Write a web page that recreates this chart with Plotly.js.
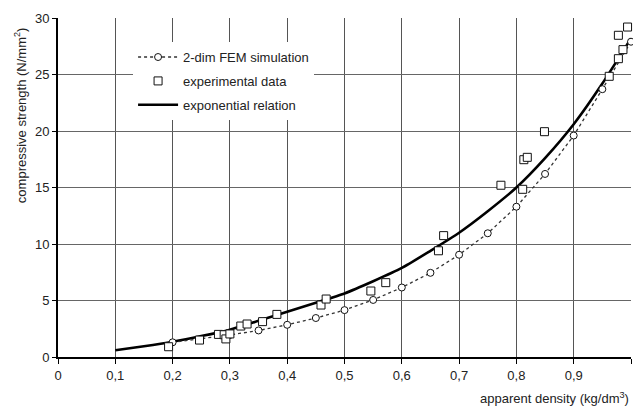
<!DOCTYPE html>
<html>
<head>
<meta charset="utf-8">
<script src="https://cdn.plot.ly/plotly-3.0.1.min.js"></script>
<style>html,body{margin:0;padding:0;background:#fff;}#chart{width:633px;height:407px;}</style>
</head>
<body>
<div id="chart"></div>
<script>
// FEM simulation (circles, dotted line)
var femX = [0.2, 0.3, 0.35, 0.4, 0.45, 0.5, 0.55, 0.6, 0.65, 0.7, 0.75, 0.8, 0.85, 0.9, 0.95, 1.0];
var femY = [1.3, 1.95, 2.35, 2.85, 3.45, 4.15, 5.05, 6.15, 7.45, 9.05, 10.95, 13.3, 16.2, 19.6, 23.7, 27.9];
// experimental data (squares)
var expX = [0.193, 0.247, 0.28, 0.29, 0.293, 0.30, 0.319, 0.33, 0.357, 0.382, 0.459, 0.468, 0.546, 0.572, 0.664, 0.673, 0.773, 0.811, 0.813, 0.819, 0.849, 0.962, 0.978, 0.986, 0.978, 0.994];
var expY = [0.91, 1.5, 2.0, 1.97, 1.6, 2.04, 2.74, 2.92, 3.13, 3.77, 4.6, 5.13, 5.84, 6.58, 9.4, 10.74, 15.2, 14.84, 17.46, 17.67, 19.94, 24.84, 26.4, 27.2, 28.47, 29.2];
// exponential relation (solid line)
var expoX = [0.1, 0.15, 0.2, 0.25, 0.3, 0.35, 0.4, 0.45, 0.5, 0.55, 0.6, 0.65, 0.7, 0.75, 0.8, 0.85, 0.9, 0.95, 1.0];
var expoY = [0.6, 0.95, 1.35, 1.85, 2.42, 3.2, 4.0, 4.8, 5.62, 6.7, 7.88, 9.4, 11.0, 12.9, 15.0, 17.6, 20.6, 24.2, 28.2];

var xTickVals = [0, 0.1, 0.2, 0.3, 0.4, 0.5, 0.6, 0.7, 0.8, 0.9, 1];
var xTickText = ['0', '0,1', '0,2', '0,3', '0,4', '0,5', '0,6', '0,7', '0,8', '0,9', '1'];
var yTickVals = [0, 5, 10, 15, 20, 25, 30];

var fnt = 'Liberation Sans, Arial, sans-serif';

var traces = [
  {x: expoX, y: expoY, mode: 'lines', name: 'exponential relation', legendgroup: 'c', legendrank: 3,
   line: {color: '#000', width: 2.6, shape: 'spline', smoothing: 0.6}},
  {x: femX, y: femY, mode: 'lines+markers', name: '2-dim FEM simulation', legendgroup: 'a', legendrank: 1,
   line: {color: '#333', width: 1.3, dash: '3px,3px'},
   marker: {symbol: 'circle', size: 7, color: '#fff', line: {width: 1, color: '#111'}}, cliponaxis: false},
  {x: expX, y: expY, mode: 'markers', name: 'experimental data', legendgroup: 'b', legendrank: 2,
   marker: {symbol: 'square', size: 8, color: '#fff', line: {width: 1, color: '#111'}}, cliponaxis: false}
];

var layout = {
  width: 633, height: 407,
  margin: {l: 58, r: 2, t: 18, b: 50},
  paper_bgcolor: '#fff', plot_bgcolor: '#fff',
  font: {family: fnt, size: 13, color: '#222'},
  showlegend: true,
  legend: {x: 0.131, y: 0.929, xanchor: 'left', yanchor: 'top', bgcolor: '#fff', borderwidth: 0,
           font: {family: fnt, size: 13, color: '#222'}, tracegroupgap: 4, itemwidth: 40, traceorder: 'grouped'},
  xaxis: {range: [0, 1], tickvals: xTickVals, ticktext: xTickText, showgrid: true, gridcolor: '#555', gridwidth: 1,
          zeroline: false, showline: true, linecolor: '#000', linewidth: 2, ticks: 'outside', ticklen: 5,
          tickcolor: '#000', tickwidth: 1, tickfont: {size: 13, color: '#222'}, fixedrange: true},
  yaxis: {range: [0, 30], tickvals: yTickVals, showgrid: true, gridcolor: '#666', gridwidth: 1,
          zeroline: false, showline: true, linecolor: '#000', linewidth: 2, ticks: 'outside', ticklen: 4,
          tickcolor: '#000', tickwidth: 1, tickfont: {size: 13, color: '#222'}, fixedrange: true},
  annotations: [
    {text: 'apparent density (kg/dm<sup>3</sup>)', xref: 'paper', yref: 'paper', x: 1.0, y: -0.121,
     xanchor: 'right', yanchor: 'middle', showarrow: false, font: {family: fnt, size: 13, color: '#222'}},
    {text: 'compressive strength (N/mm<sup>2</sup>)', xref: 'paper', yref: 'paper', x: -0.066, y: 0.714,
     xanchor: 'center', yanchor: 'middle', textangle: -90, showarrow: false, font: {family: fnt, size: 13, color: '#222'}}
  ]
};

Plotly.newPlot('chart', traces, layout, {displayModeBar: false, staticPlot: true});
</script>
</body>
</html>
